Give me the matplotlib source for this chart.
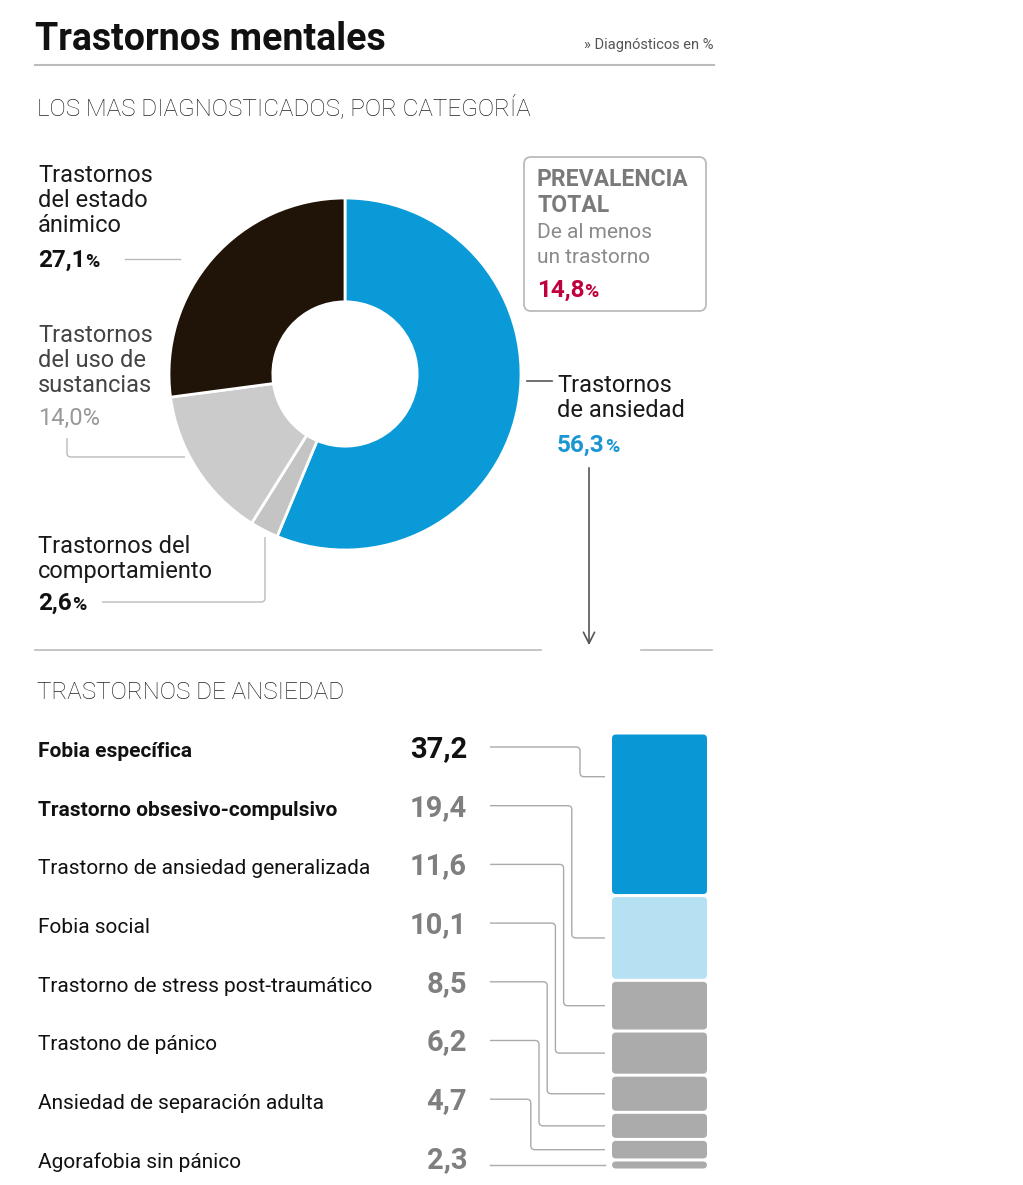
import numpy as np
import matplotlib.pyplot as plt
from matplotlib.patches import FancyBboxPatch, PathPatch
from matplotlib.path import Path

# Categorias (en el orden del anillo, sentido horario desde arriba)
cat_names = ['Trastornos de ansiedad', 'Trastornos del comportamiento',
             'Trastornos del uso de sustancias', 'Trastornos del estado anímico']
cat_values = [56.3, 2.6, 14.0, 27.1]
cat_colors = ['#0a9ad8', '#c4c4c4', '#cbcbcb', '#201409']
prevalencia = 14.8

# Trastornos de ansiedad
anx_names = ['Fobia específica', 'Trastorno obsesivo-compulsivo',
             'Trastorno de ansiedad generalizada', 'Fobia social',
             'Trastorno de stress post-traumático', 'Trastono de pánico',
             'Ansiedad de separación adulta', 'Agorafobia sin pánico']
anx_values = [37.2, 19.4, 11.6, 10.1, 8.5, 6.2, 4.7, 2.3]
anx_colors = ['#0a97d6', '#b5e1f3'] + ['#ababab'] * 6

plt.rcParams['font.family'] = ['Roboto', 'DejaVu Sans']

W, H = 1023, 1185
fig = plt.figure(figsize=(W / 100, H / 100), dpi=100)
ax = fig.add_axes([0, 0, 1, 1])
ax.set_xlim(0, W)
ax.set_ylim(H, 0)
ax.axis('off')


def fmt(v):
    return f'{v:.1f}'.replace('.', ',')


def pct(x, y, v, color, size=17.5, small=14, weight='bold'):
    t = ax.text(x, y, fmt(v), color=color, fontsize=size, fontweight=weight, va='baseline')
    ax.annotate('%', xy=(1, y), xycoords=(t, 'data'), xytext=(0, 0), textcoords='offset points',
                color=color, fontsize=small, fontweight=weight, va='baseline')
    return t


def leader(pts, color='#aaaaaa', lw=1.0, r=4):
    verts = [pts[0]]
    codes = [Path.MOVETO]
    for i in range(1, len(pts) - 1):
        p0 = np.array(pts[i - 1], float)
        p1 = np.array(pts[i], float)
        p2 = np.array(pts[i + 1], float)
        d1 = (p1 - p0) / np.linalg.norm(p1 - p0)
        d2 = (p2 - p1) / np.linalg.norm(p2 - p1)
        verts += [p1 - d1 * r, p1, p1 + d2 * r]
        codes += [Path.LINETO, Path.CURVE3, Path.CURVE3]
    verts.append(pts[-1])
    codes.append(Path.LINETO)
    ax.add_patch(PathPatch(Path(verts, codes), fill=False, ec=color, lw=lw))


# Cabecera
ax.text(35, 50, 'Trastornos mentales', fontsize=27, fontweight='bold', color='#111111', va='baseline')
ax.text(714, 49, '» Diagnósticos en %', fontsize=10.5, color='#555555', ha='right', va='baseline')
ax.plot([35, 714], [65, 65], color='#bbbbbb', lw=1.5)
ax.text(37, 115, 'LOS MAS DIAGNOSTICADOS, POR CATEGORÍA', fontsize=17.5, fontweight='light',
        color='#222222', va='baseline')

# Anillo
ax_pie = fig.add_axes([169 / W, 1 - 550 / H, 352 / W, 352 / H])
ax_pie.pie(cat_values, colors=cat_colors, startangle=90, counterclock=False, radius=1,
           wedgeprops=dict(width=0.59, edgecolor='white', linewidth=2))
ax_pie.set_xlim(-1, 1)
ax_pie.set_ylim(-1, 1)
ax_pie.axis('off')

lab = 17
# estado animico
for i, s in enumerate(['Trastornos', 'del estado', 'ánimico']):
    ax.text(38, 182 + 25 * i, s, fontsize=lab, color='#1a1a1a', va='baseline')
pct(38, 267, cat_values[3], '#111111')
ax.plot([125, 180], [259, 259], color='#bbbbbb', lw=1)

# uso de sustancias
for i, s in enumerate(['Trastornos', 'del uso de', 'sustancias']):
    ax.text(38, 342 + 25 * i, s, fontsize=lab, color='#444444', va='baseline')
ax.text(38, 425, fmt(cat_values[2]) + '%', fontsize=17, color='#999999', va='baseline')
leader([(67, 438), (67, 457), (185, 457)], color='#bbbbbb')

# comportamiento
for i, s in enumerate(['Trastornos del', 'comportamiento']):
    ax.text(38, 553 + 25 * i, s, fontsize=lab, color='#1a1a1a', va='baseline')
pct(38, 610, cat_values[1], '#111111')
leader([(102, 602), (265, 602), (265, 537)], color='#bbbbbb')

# ansiedad
ax.plot([527, 552], [381, 381], color='#555555', lw=1.2)
for i, s in enumerate(['Trastornos', 'de ansiedad']):
    ax.text(557, 392 + 25 * i, s, fontsize=lab, color='#1a1a1a', va='baseline')
pct(557, 452, cat_values[0], '#1a96d2')
ax.annotate('', xy=(589, 648), xytext=(589, 465),
            arrowprops=dict(arrowstyle='->', color='#555555', lw=1.2, mutation_scale=20))

# caja prevalencia
ax.add_patch(FancyBboxPatch((524, 157), 182, 154, boxstyle='round,pad=0,rounding_size=7',
                            fc='white', ec='#bbbbbb', lw=1.3))
ax.text(537, 186, 'PREVALENCIA', fontsize=16.5, fontweight='bold', color='#7a7a7a', va='baseline')
ax.text(537, 212, 'TOTAL', fontsize=16.5, fontweight='bold', color='#7a7a7a', va='baseline')
ax.text(537, 238, 'De al menos', fontsize=15, color='#8a8a8a', va='baseline')
ax.text(537, 263, 'un trastorno', fontsize=15, color='#8a8a8a', va='baseline')
pct(537, 297, prevalencia, '#c0003c')

# separador
ax.plot([35, 541], [650, 650], color='#bbbbbb', lw=1.2)
ax.plot([641, 712], [650, 650], color='#bbbbbb', lw=1.2)

ax.text(37, 699, 'TRASTORNOS DE ANSIEDAD', fontsize=17.5, fontweight='light',
        color='#222222', va='baseline')

# Barra apilada
ax_bar = fig.add_axes([612 / W, 1 - 1170 / H, 95 / W, 437 / H])
starts = np.concatenate([[0], np.cumsum(anx_values)[:-1]])
bars = ax_bar.bar([0] * len(anx_values), anx_values, bottom=starts, width=1, color=anx_colors)
ax_bar.set_xlim(-0.5, 0.5)
ax_bar.set_ylim(100, 0)
ax_bar.axis('off')

to_px = ax.transData.inverted()


def bar_to_px(x, y):
    return to_px.transform(ax_bar.transData.transform((x, y)))


# segmentos con esquinas redondeadas
for b in bars:
    x0, y0 = bar_to_px(b.get_x(), b.get_y())
    x1, y1 = bar_to_px(b.get_x() + b.get_width(), b.get_y() + b.get_height())
    top, bot = min(y0, y1), max(y0, y1)
    ax.add_patch(FancyBboxPatch((x0, top + 1.5), x1 - x0, bot - top - 3,
                                boxstyle='round,pad=0,rounding_size=4',
                                fc=b.get_facecolor(), ec='none'))
    b.set_visible(False)

row0, step = 757, 58.7
for i, (name, v) in enumerate(zip(anx_names, anx_values)):
    yb = row0 + step * i
    bold = i < 2
    ax.text(38, yb, name, fontsize=15, fontweight='bold' if bold else 'normal',
            color='#111111', va='baseline')
    ax.text(467, yb, fmt(v), fontsize=21, fontweight='bold',
            color='#111111' if i == 0 else '#7f7f7f', ha='right', va='baseline')
    ly = yb - 10
    tgt = starts[i] + min(v / 2, 10)
    ty = bar_to_px(0, tgt)[1]
    if abs(ty - ly) < 10:
        ax.plot([490, 605], [ty, ty], color='#aaaaaa', lw=1)
    else:
        ex = 580 - 8.2 * i
        leader([(490, ly), (ex, ly), (ex, ty), (605, ty)], color='#aaaaaa')

fig.savefig('out.png', dpi=100)
